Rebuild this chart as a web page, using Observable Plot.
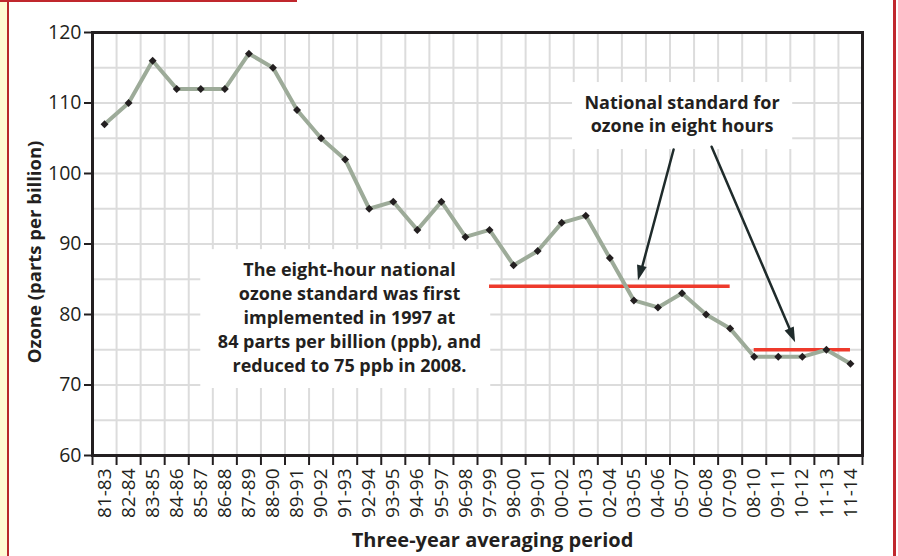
<!DOCTYPE html>
<html>
<head>
<meta charset="utf-8">
<script src="https://cdn.jsdelivr.net/npm/d3@7"></script>
<script src="https://cdn.jsdelivr.net/npm/@observablehq/plot@0.6"></script>
<style>
  html, body { margin: 0; padding: 0; background: #fff; }
  #wrap { position: relative; width: 898px; height: 556px; overflow: hidden; background: #fff; }
  #yellow { position: absolute; left: 0; top: 0; width: 7px; height: 556px; background: #fffbd3; }
  #redLeft { position: absolute; left: 7px; top: 0; width: 2px; height: 556px; background: #b8282c; }
  #redTop { position: absolute; left: 0; top: 0; width: 297px; height: 2px; background: #c0272d; }
  #redRight { position: absolute; left: 893px; top: 0; width: 3px; height: 556px; background: #c0272d; }
  #chart { position: absolute; left: 0; top: 0; }
</style>
</head>
<body>
<div id="wrap">
  <div id="chart"></div>
  <div id="yellow"></div>
  <div id="redLeft"></div>
  <div id="redTop"></div>
  <div id="redRight"></div>
</div>
<script>
// ---- data ----
const periods = ["81-83","82-84","83-85","84-86","85-87","86-88","87-89","88-90","89-91","90-92",
  "91-93","92-94","93-95","94-96","95-97","96-98","97-99","98-00","99-01","00-02",
  "01-03","02-04","03-05","04-06","05-07","06-08","07-09","08-10","09-11","10-12","11-13","11-14"];
const ozone = [107,110,116,112,112,112,117,115,109,105,
  102,95,96,92,96,91,92,87,89,93,
  94,88,82,81,83,80,78,74,74,74,75,73];
const yTicks = [60,70,80,90,100,110,120];
const standards = [
  {ppb: 84, start: "97-99", end: "07-09"},
  {ppb: 75, start: "08-10", end: "11-14"}
];
const noteBoxes = [
  {x1: 4.5, x2: 16.55, y1: 89.2, y2: 69.5},
  {x1: 19.95, x2: 29.1, y1: 112.9, y2: 103.4}
];
const notes = [
  {x: 10.68, y: 79.7, text: "The eight-hour national\nozone standard was first\nimplemented in 1997 at\n84 parts per billion (ppb), and\nreduced to 75 ppb in 2008."},
  {x: 24.5, y: 108.6, text: "National standard for\nozone in eight hours"}
];
const arrows = [
  {x1: 24.15, y1: 103.4, x2: 22.69, y2: 84.8},
  {x1: 25.73, y1: 103.8, x2: 29.22, y2: 76.0}
];

const idx = p => periods.indexOf(p) + 0.5;
const data = periods.map((p, i) => ({period: p, pos: i + 0.5, ozone: ozone[i]}));
const ink = "#231f20";
const font = "'Open Sans', 'Noto Sans', sans-serif";

const chart = Plot.plot({
  width: 898,
  height: 556,
  marginLeft: 92,
  marginRight: 36,
  marginTop: 32,
  marginBottom: 101,
  style: {fontFamily: font, fontSize: "18px", color: ink, background: "transparent", overflow: "visible"},
  x: {type: "linear", domain: [0, periods.length]},
  y: {domain: [60, 120]},
  marks: [
    Plot.gridY(d3.range(60, 121, 5), {stroke: "#dcdcdc", strokeOpacity: 1, strokeWidth: 2}),
    Plot.gridX(d3.range(0, periods.length + 1), {stroke: "#dcdcdc", strokeOpacity: 1, strokeWidth: 2}),
    Plot.rect(noteBoxes, {x1: "x1", x2: "x2", y1: "y1", y2: "y2", fill: "white"}),
    Plot.ruleY(standards, {y: "ppb", x1: d => idx(d.start), x2: d => idx(d.end), stroke: "#ee3a2c", strokeWidth: 3.5}),
    Plot.line(data, {x: "pos", y: "ozone", stroke: "#9dab99", strokeWidth: 4}),
    Plot.dot(data, {x: "pos", y: "ozone", symbol: "diamond2", r: 3.6, fill: ink, stroke: "none"}),
    Plot.arrow(arrows, {x1: "x1", y1: "y1", x2: "x2", y2: "y2", stroke: "#1f2b2b", strokeWidth: 2.5, headLength: 0, insetEnd: 9}),
    Plot.text(notes, {x: "x", y: "y", text: "text", fontWeight: "bold", fontSize: 18, lineHeight: 1.33, fill: ink, lineAnchor: "middle"}),
    Plot.frame({stroke: ink, strokeWidth: 3}),
    Plot.axisY({ticks: yTicks, tickSize: 8, tickPadding: 3, fontSize: 19.5, label: null, strokeWidth: 2, stroke: ink}),
    Plot.axisX({ticks: d3.range(0, periods.length + 1), tickSize: 10, tickFormat: () => "", label: null, strokeWidth: 2, stroke: ink}),
    Plot.axisX({ticks: periods.map((p, i) => i + 0.5), tickSize: 0, tickPadding: 13, tickRotate: -90,
      tickFormat: d => periods[Math.floor(d)], fontSize: 19, label: null}),
    Plot.text(["Ozone (parts per billion)"], {text: d => d, frameAnchor: "left", textAnchor: "middle", dx: -57, dy: 8, rotate: -90, fontWeight: "bold", fontSize: 18.5, fill: ink}),
    Plot.text(["Three-year averaging period"], {text: d => d, frameAnchor: "bottom", dy: 91, dx: 15, fontWeight: "bold", fontSize: 20, fill: ink})
  ]
});

// filled arrowheads placed through the plot's own scales
const sx = chart.scale("x"), sy = chart.scale("y");
const headLen = 15, headHalf = 5;
d3.select(chart).append("g").selectAll("path").data(arrows).join("path")
  .attr("fill", "#1f2b2b")
  .attr("d", d => {
    const ax = sx.apply(d.x1), ay = sy.apply(d.y1), bx = sx.apply(d.x2), by = sy.apply(d.y2);
    const L = Math.hypot(bx - ax, by - ay), ux = (bx - ax) / L, uy = (by - ay) / L;
    const cx = bx - ux * headLen, cy = by - uy * headLen;
    return `M${bx},${by}L${cx - uy * headHalf},${cy + ux * headHalf}L${cx + uy * headHalf},${cy - ux * headHalf}Z`;
  });

document.getElementById("chart").appendChild(chart);
</script>
</body>
</html>
